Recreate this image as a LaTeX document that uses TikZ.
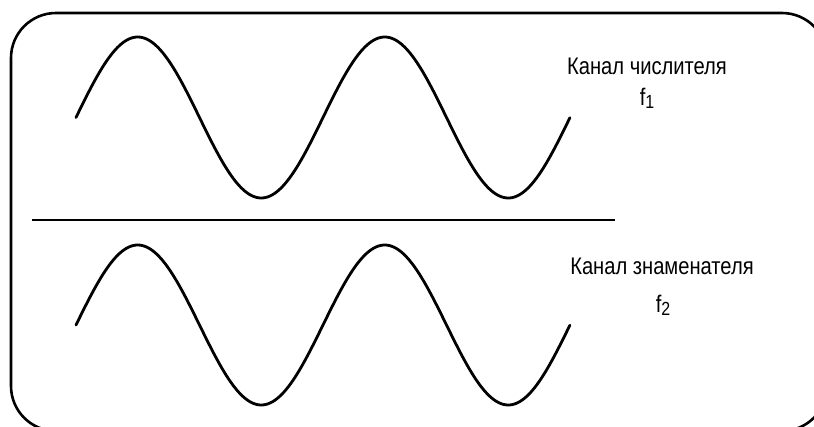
\documentclass[tikz,border=0pt]{standalone}
\usepackage{fontspec}
\setmainfont{Liberation Sans}[FakeStretch=0.84]
\begin{document}
\begin{tikzpicture}[x=1pt,y=-1pt,
  wave/.style={line width=2.8pt,line cap=round,line join=round},
  frame/.style={line width=2.6pt,rounded corners=45pt},
  lbl/.style={inner sep=0pt,font=\fontsize{24}{28}\selectfont,anchor=base},
  freq/.style={inner sep=0pt,font=\fontsize{24}{28}\selectfont,anchor=base}]
\useasboundingbox (0,0) rectangle (814,426);
\begin{scope}
\clip (0,0) rectangle (814,426);
\draw[frame] (11,13) rectangle (827,431);
\end{scope}
% upper wave
\draw[wave] plot[domain=0:4*pi,samples=240,smooth] ({76+\x/(2*pi)*247},{117.5-80.5*sin(\x r)});
% lower wave
\draw[wave] plot[domain=0:4*pi,samples=240,smooth] ({76+\x/(2*pi)*247},{325-80*sin(\x r)});
% separator
\coordinate (sepL) at (32,220);
\coordinate (sepR) at (615,220);
\draw[line width=2.6pt] (sepL) -- (sepR);
% labels
\node[lbl] (num) at (647,74) {Канал числителя};
\node[freq] (f1) at (647,105) {f\raisebox{-0.3ex}{\fontsize{19}{21}\selectfont 1}};
\node[lbl] (den) at (662,274) {Канал знаменателя};
\node[freq] (f2) at (663,312) {f\raisebox{-0.3ex}{\fontsize{19}{21}\selectfont 2}};
\end{tikzpicture}
\end{document}
